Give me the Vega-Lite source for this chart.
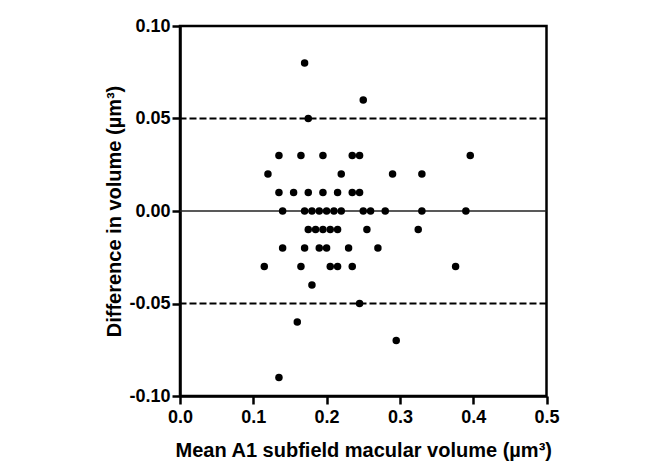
{
  "$schema": "https://vega.github.io/schema/vega-lite/v6.json",
  "width": 366.5,
  "height": 370,
  "autosize": {"type": "none"},
  "padding": {"left": 180, "top": 26, "right": 100.5, "bottom": 78},
  "background": "white",
  "datasets": {
    "pts": [
      {"mean": 0.170, "diff": 0.08},
      {"mean": 0.250, "diff": 0.06},
      {"mean": 0.175, "diff": 0.05},
      {"mean": 0.135, "diff": 0.03},
      {"mean": 0.165, "diff": 0.03},
      {"mean": 0.195, "diff": 0.03},
      {"mean": 0.235, "diff": 0.03},
      {"mean": 0.245, "diff": 0.03},
      {"mean": 0.396, "diff": 0.03},
      {"mean": 0.120, "diff": 0.02},
      {"mean": 0.220, "diff": 0.02},
      {"mean": 0.290, "diff": 0.02},
      {"mean": 0.330, "diff": 0.02},
      {"mean": 0.135, "diff": 0.01},
      {"mean": 0.155, "diff": 0.01},
      {"mean": 0.175, "diff": 0.01},
      {"mean": 0.195, "diff": 0.01},
      {"mean": 0.215, "diff": 0.01},
      {"mean": 0.235, "diff": 0.01},
      {"mean": 0.245, "diff": 0.01},
      {"mean": 0.140, "diff": 0.0},
      {"mean": 0.170, "diff": 0.0},
      {"mean": 0.180, "diff": 0.0},
      {"mean": 0.190, "diff": 0.0},
      {"mean": 0.200, "diff": 0.0},
      {"mean": 0.210, "diff": 0.0},
      {"mean": 0.220, "diff": 0.0},
      {"mean": 0.250, "diff": 0.0},
      {"mean": 0.260, "diff": 0.0},
      {"mean": 0.280, "diff": 0.0},
      {"mean": 0.330, "diff": 0.0},
      {"mean": 0.390, "diff": 0.0},
      {"mean": 0.175, "diff": -0.01},
      {"mean": 0.185, "diff": -0.01},
      {"mean": 0.195, "diff": -0.01},
      {"mean": 0.205, "diff": -0.01},
      {"mean": 0.215, "diff": -0.01},
      {"mean": 0.255, "diff": -0.01},
      {"mean": 0.325, "diff": -0.01},
      {"mean": 0.140, "diff": -0.02},
      {"mean": 0.170, "diff": -0.02},
      {"mean": 0.190, "diff": -0.02},
      {"mean": 0.200, "diff": -0.02},
      {"mean": 0.230, "diff": -0.02},
      {"mean": 0.270, "diff": -0.02},
      {"mean": 0.115, "diff": -0.03},
      {"mean": 0.165, "diff": -0.03},
      {"mean": 0.205, "diff": -0.03},
      {"mean": 0.215, "diff": -0.03},
      {"mean": 0.235, "diff": -0.03},
      {"mean": 0.376, "diff": -0.03},
      {"mean": 0.180, "diff": -0.04},
      {"mean": 0.245, "diff": -0.05},
      {"mean": 0.160, "diff": -0.06},
      {"mean": 0.295, "diff": -0.07},
      {"mean": 0.135, "diff": -0.09}
    ],
    "lines": [
      {"y": 0.05, "kind": "limit"},
      {"y": -0.05, "kind": "limit"},
      {"y": 0.0, "kind": "mean"}
    ]
  },
  "config": {
    "view": {"stroke": "black", "strokeWidth": 2.5},
    "axis": {
      "labelFont": "Liberation Sans",
      "labelFontWeight": "bold",
      "labelFontSize": 18,
      "labelColor": "black",
      "titleFont": "Liberation Sans",
      "titleFontWeight": "bold",
      "titleFontSize": 20,
      "titleColor": "black",
      "domainColor": "black",
      "domainWidth": 2.5,
      "tickColor": "black",
      "tickWidth": 2.5,
      "tickSize": 8,
      "grid": false
    }
  },
  "layer": [
    {
      "data": {"name": "lines"},
      "transform": [{"filter": "datum.kind === 'limit'"}],
      "mark": {"type": "rule", "color": "black", "strokeWidth": 2, "strokeDash": [7, 3]},
      "encoding": {
        "y": {"field": "y", "type": "quantitative", "scale": {"domain": [-0.1, 0.1]}}
      }
    },
    {
      "data": {"name": "lines"},
      "transform": [{"filter": "datum.kind === 'mean'"}],
      "mark": {"type": "rule", "color": "#222", "strokeWidth": 1.5},
      "encoding": {
        "y": {"field": "y", "type": "quantitative"}
      }
    },
    {
      "data": {"name": "pts"},
      "mark": {"type": "circle", "color": "black", "opacity": 1, "size": 56},
      "encoding": {
        "x": {
          "field": "mean", "type": "quantitative",
          "scale": {"domain": [0, 0.5], "nice": false, "zero": false},
          "axis": {"values": [0, 0.1, 0.2, 0.3, 0.4, 0.5], "format": ".1f", "labelPadding": 4, "titlePadding": 14, "labelFlush": false},
          "title": "Mean A1 subfield macular volume (µm³)"
        },
        "y": {
          "field": "diff", "type": "quantitative",
          "scale": {"domain": [-0.1, 0.1], "nice": false, "zero": false},
          "axis": {
            "values": [-0.1, -0.05, 0, 0.05, 0.1],
            "labelExpr": "datum.value < 0 ? '-' + format(-datum.value, '.2f') : format(datum.value, '.2f')",
            "labelPadding": 2,
            "titlePadding": 4,
            "labelFlush": false
          },
          "title": "Difference in volume (µm³)"
        }
      }
    }
  ]
}
